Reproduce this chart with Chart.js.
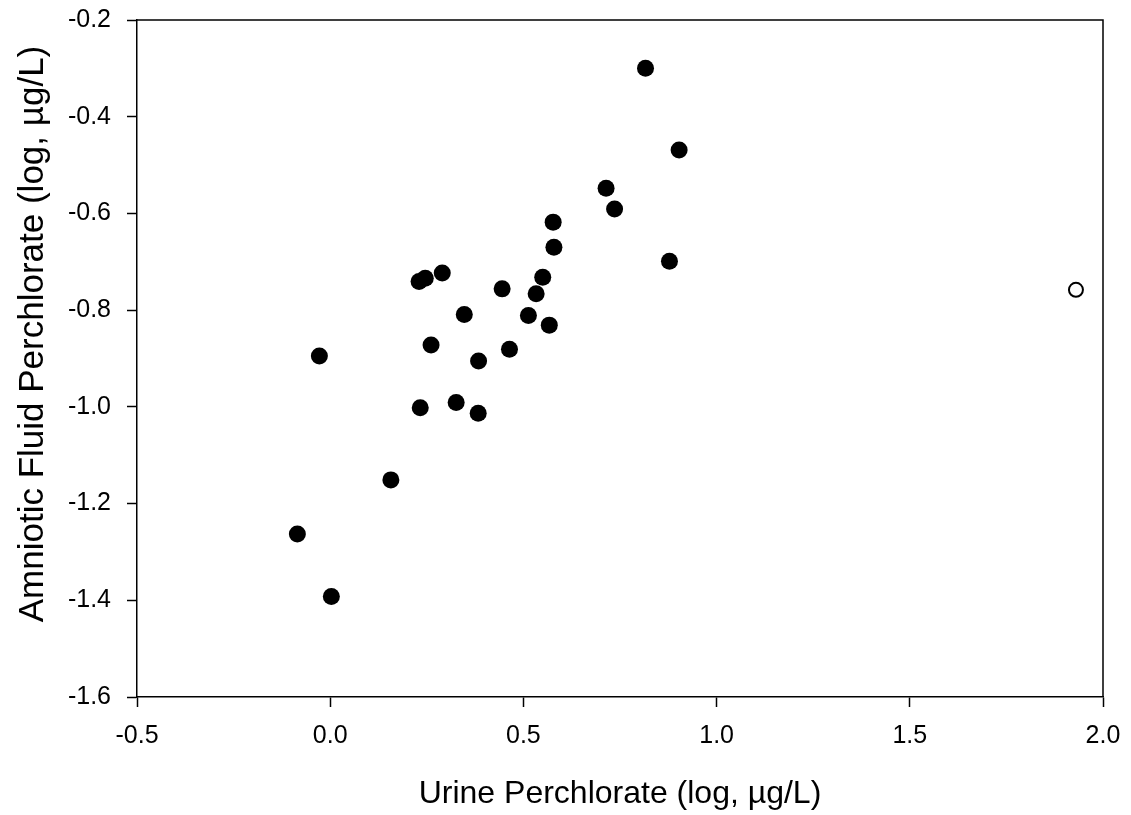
<!DOCTYPE html>
<html>
<head>
<meta charset="utf-8">
<script src="https://cdn.jsdelivr.net/npm/chart.js@4/dist/chart.umd.min.js"></script>
<style>
  html, body { margin: 0; padding: 0; background: #fff; }
  #wrap { width: 1131px; height: 815px; position: relative; }
</style>
</head>
<body>
<div id="wrap"><canvas id="c" width="1131" height="815"></canvas></div>
<script>
// Filled points: urine (x) vs amniotic fluid (y), log µg/L
const urineX = [0.816, 0.903, 0.714, 0.736, 0.577, 0.579, 0.878, 0.230, 0.246, 0.290, 0.445, 0.550, 0.533, 0.347, 0.513, 0.567, -0.028, 0.261, 0.464, 0.384, 0.233, 0.326, 0.383, 0.157, -0.085, 0.003];
const amnioticY = [-0.300, -0.469, -0.548, -0.591, -0.618, -0.670, -0.699, -0.741, -0.734, -0.723, -0.756, -0.732, -0.766, -0.809, -0.811, -0.831, -0.895, -0.872, -0.881, -0.905, -1.002, -0.991, -1.013, -1.151, -1.263, -1.392];
// Open-circle point (outlier)
const outlierX = [1.930];
const outlierY = [-0.758];
// Axis ticks
const xTicks = [-0.5, 0.0, 0.5, 1.0, 1.5, 2.0];
const yTicks = [-1.6, -1.4, -1.2, -1.0, -0.8, -0.6, -0.4, -0.2];
const xTitle = 'Urine Perchlorate (log, µg/L)';
const yTitle = 'Amniotic Fluid Perchlorate (log, µg/L)';

const FONT = '"Liberation Sans", Arial, sans-serif';

const framePlugin = {
  id: 'frame',
  afterDatasetsDraw(chart) {
    const a = chart.chartArea, ctx = chart.ctx;
    ctx.save();
    ctx.strokeStyle = '#000';
    ctx.lineWidth = 1.5;
    ctx.beginPath();
    ctx.moveTo(a.left, a.top);
    ctx.lineTo(a.right, a.top);
    ctx.lineTo(a.right, a.bottom);
    ctx.stroke();
    // y axis title
    ctx.translate(33, 334);
    ctx.rotate(-Math.PI / 2);
    ctx.fillStyle = '#000';
    ctx.font = '35px ' + FONT;
    ctx.textAlign = 'center';
    ctx.textBaseline = 'middle';
    ctx.fillText(yTitle, 0, 0);
    ctx.restore();
  }
};

new Chart(document.getElementById('c'), {
  type: 'scatter',
  data: {
    datasets: [
      {
        data: urineX.map((x, i) => ({ x: x, y: amnioticY[i] })),
        pointRadius: 8.5,
        pointHoverRadius: 8.5,
        pointBackgroundColor: '#000',
        pointBorderColor: '#000',
        pointBorderWidth: 0
      },
      {
        data: outlierX.map((x, i) => ({ x: x, y: outlierY[i] })),
        pointRadius: 7,
        pointHoverRadius: 7,
        pointBackgroundColor: '#fff',
        pointBorderColor: '#000',
        pointBorderWidth: 2
      }
    ]
  },
  options: {
    responsive: false,
    animation: false,
    devicePixelRatio: 1,
    layout: { padding: { top: 20, right: 28, left: 0, bottom: 0 } },
    plugins: { legend: { display: false }, tooltip: { enabled: false } },
    scales: {
      x: {
        type: 'linear',
        min: -0.5, max: 2.0,
        afterBuildTicks(scale) { scale.ticks = xTicks.map(v => ({ value: v })); },
        afterFit(scale) { scale.height = 118; scale.paddingLeft = 0; scale.paddingRight = 0; },
        grid: { drawOnChartArea: false, drawTicks: true, tickLength: 10, tickColor: '#000', tickWidth: 1.5 },
        border: { display: true, color: '#000', width: 1.5 },
        ticks: {
          color: '#000', padding: 14, maxRotation: 0,
          font: { family: FONT, size: 25 },
          callback: v => Number(v).toFixed(1)
        },
        title: {
          display: true, text: xTitle, color: '#000',
          font: { family: FONT, size: 32 },
          padding: { top: 0, bottom: 2 }
        }
      },
      y: {
        type: 'linear',
        min: -1.6, max: -0.2,
        afterBuildTicks(scale) { scale.ticks = yTicks.map(v => ({ value: v })); },
        afterFit(scale) { scale.width = 137; scale.paddingTop = 0; scale.paddingBottom = 0; },
        grid: { drawOnChartArea: false, drawTicks: true, tickLength: 10, tickColor: '#000', tickWidth: 1.5 },
        border: { display: true, color: '#000', width: 1.5 },
        ticks: {
          color: '#000', padding: 16,
          font: { family: FONT, size: 25 },
          callback: v => Number(v).toFixed(1)
        },
        title: { display: false }
      }
    }
  },
  plugins: [framePlugin]
});
</script>
</body>
</html>
